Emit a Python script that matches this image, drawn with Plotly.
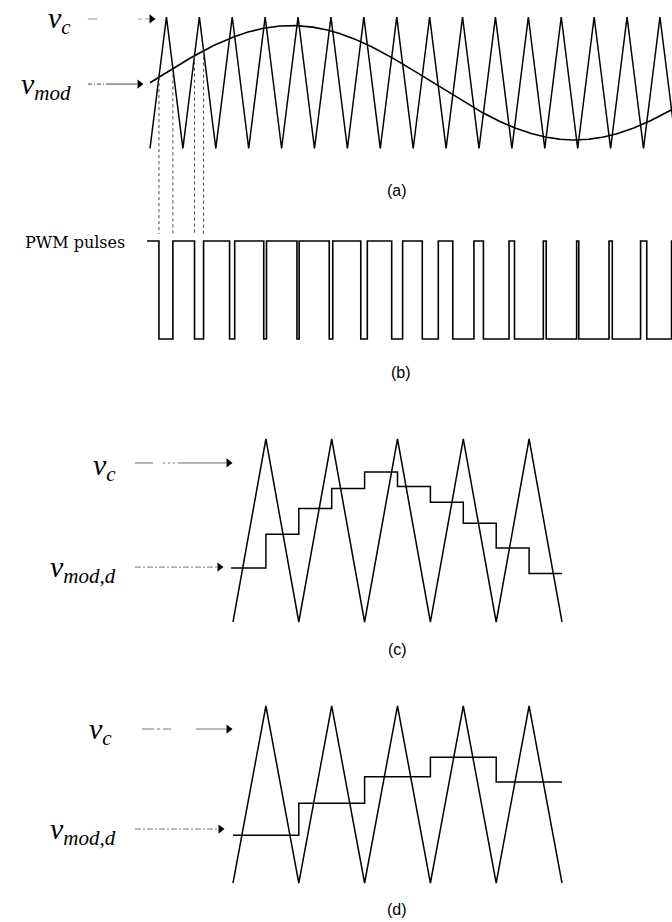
import numpy as np
import plotly.graph_objects as go

W, H = 672, 922

# ---------------- waveform parameters ----------------
CARRIER_PEAK = 1.0            # triangular carrier swings between -1 and +1
CARRIER_PERIODS_AB = 16       # carrier periods drawn in (a) and (b)
MOD_INDEX = 0.87              # peak of v_mod relative to the carrier peak
CARRIER_PER_MOD = 17.2        # carrier periods in one period of v_mod
PWM_START = -0.09             # PWM trace begins slightly before the carrier
PWM_LEVELS = (0, 1)           # low / high
N_MARKED_EDGES = 4            # first switching instants projected down to (b)

# (c) asymmetric regular sampling: v_mod,d updated every half carrier period
levels_c = [-0.41, -0.04, 0.24, 0.46, 0.64, 0.48, 0.31, 0.08, -0.19, -0.47]
# (d) symmetric regular sampling: v_mod,d updated once per carrier period
levels_d = [-0.46, -0.10, 0.20, 0.42, 0.14]
CARRIER_PERIODS_CD = 5

panel_labels = ["(a)", "(b)", "(c)", "(d)"]

PX_AB, PX_CD = 32.9, 65.8     # pixels per carrier period in the two layouts


# ---------------- helpers ----------------
def carrier(t):
    f = np.mod(t, 1.0)
    return np.where(f < 0.5, -1 + 4 * f, 3 - 4 * f) * CARRIER_PEAK


def v_mod(t):
    return MOD_INDEX * np.sin(2 * np.pi * np.asarray(t) / CARRIER_PER_MOD)


def triangle_vertices(n_periods):
    tv = np.arange(0, n_periods + 0.25, 0.5)
    vv = np.where(np.arange(len(tv)) % 2 == 0, -CARRIER_PEAK, CARRIER_PEAK)
    return tv, vv


def x_axis(px0, px_per_unit):
    return dict(domain=[0, 1], range=[-px0 / px_per_unit, (W - px0) / px_per_unit],
                visible=False, fixedrange=True)


def y_axis(px_hi, px_lo, v_hi, v_lo, top, bot, anchor):
    s = (v_hi - v_lo) / (px_lo - px_hi)
    f = lambda px: v_lo + (px_lo - px) * s
    return dict(domain=[1 - bot / H, 1 - top / H], range=[f(bot), f(top)],
                visible=False, fixedrange=True, anchor=anchor)


INK = dict(color="black", width=1.5)
A, B, C, D = ("x", "y"), ("x2", "y2"), ("x3", "y3"), ("x4", "y4")

fig = go.Figure()


def add(ax, **kw):
    fig.add_trace(go.Scatter(xaxis=ax[0], yaxis=ax[1], hoverinfo="skip", **kw))


# ---------------- (a) carrier and sinusoidal modulation ----------------
ta, va = triangle_vertices(CARRIER_PERIODS_AB)
add(A, x=ta, y=va, mode="lines", line=INK)
ts = np.linspace(0, CARRIER_PERIODS_AB, 1200)
add(A, x=ts, y=v_mod(ts), mode="lines", line=dict(color="black", width=1.6))

# ---------------- (b) PWM pulses: high while v_mod > v_c ----------------
tp = np.arange(0, CARRIER_PERIODS_AB, 1e-4)
on = v_mod(tp) > carrier(tp)
idx = np.nonzero(np.diff(on.astype(int)))[0] + 1
edges = tp[idx]
px_ = [PWM_START] + list(edges) + [CARRIER_PERIODS_AB]
py_ = [PWM_LEVELS[1]] + [PWM_LEVELS[int(on[i])] for i in idx] + [PWM_LEVELS[int(on[-1])]]
add(B, x=px_, y=py_, mode="lines", line=dict(color="black", width=1.6, shape="hv"))

# projection of the first crossings down to the pulse train
A_Y = y_axis(17, 148.5, 1, -1, 13, 234, "x")
ya_bottom = A_Y["range"][0]
dx, dy = [], []
for te in edges[:N_MARKED_EDGES]:
    dx += [te, te, None]
    dy += [float(v_mod(te)), ya_bottom, None]
add(A, x=dx, y=dy, mode="lines", line=dict(color="#444", width=1, dash="dot"))

# ---------------- (c) and (d) sampled modulation ----------------
for ax, levels, step in ((C, levels_c, 0.5), (D, levels_d, 1.0)):
    tv, vv = triangle_vertices(CARRIER_PERIODS_CD)
    add(ax, x=tv, y=vv, mode="lines", line=INK)
    xs = [step * k for k in range(len(levels))] + [CARRIER_PERIODS_CD]
    ys = list(levels) + [levels[-1]]
    if ax == C:
        xs[0] = -0.03
    add(ax, x=xs, y=ys, mode="lines", line=dict(color="black", width=1.5, shape="hv"))

# ---------------- pointer arrows (dashed shaft + triangular head) ----------------
arrows = [
    # axis, x-start, x-tip, level, colour, dash
    (A, -1.885, 0.152, 0.97, "#9a9a9a", "9px,41px,4px,3px,4px,60px"),
    (A, -1.885, -0.213, -0.02, "#444", "4px,2px,1px,2px,4px,2px,1px,2px,60px"),
    (C, -1.49, -0.015, 0.738, "#666", "18px,10px,2px,3px,2px,3px,2px,3px,60px"),
    (C, -1.49, -0.152, -0.40, "#777", "6px,2px,2px,2px"),
    (D, -1.383, -0.015, 0.74, "#777", "12px,3px,3px,3px,8px,25px,60px"),
    (D, -1.49, -0.137, -0.39, "#777", "6px,2px,2px,2px,6px,2px,2px,2px,6px,2px,2px,2px,6px,2px,2px,2px,6px,2px,2px,2px,6px,2px,2px,2px,6px,2px,2px,2px,6px,15px"),
]
for ax, x0, x1, lv, col, dash in arrows:
    pxu = PX_AB if ax in (A, B) else PX_CD
    add(ax, x=[x0, x1 - 6 / pxu], y=[lv, lv], mode="lines",
        line=dict(color=col, width=1, dash=dash))
    add(ax, x=[x1 - 3.5 / pxu], y=[lv], mode="markers", cliponaxis=False,
        marker=dict(symbol="triangle-right", size=8, color="black", line=dict(width=0)))

# ---------------- text ----------------
annotations = []
MATH = dict(family="Liberation Serif", size=30, color="black")


def label(text, right_px, mid_px, font, anchor="right"):
    annotations.append(dict(x=right_px / W, y=1 - mid_px / H, xref="paper", yref="paper",
                            text=text, showarrow=False, xanchor=anchor, yanchor="middle",
                            font=font))


vc = "<i>v</i><sub><i>c</i></sub>"
vmod = "<i>v</i><sub><i>mod</i></sub>"
vmodd = "<i>v</i><sub><i>mod,d</i></sub>"
label(vc, 73, 20, MATH)
label(vmod, 73, 86, MATH)
label(vc, 118, 467, MATH)
label(vmodd, 118, 569, MATH)
label(vc, 114, 731, MATH)
label(vmodd, 118, 831, MATH)
label("PWM pulses", 127, 242, dict(family="DejaVu Serif", size=16, color="black"))

SANS = dict(family="Liberation Sans", size=16, color="black")
for txt, cx, cy in zip(panel_labels, [397, 401, 397, 397], [190, 373, 649, 909]):
    label(txt, cx, cy, SANS, anchor="center")

fig.update_layout(
    width=W, height=H, margin=dict(l=0, r=0, t=0, b=0),
    paper_bgcolor="white", plot_bgcolor="rgba(0,0,0,0)", showlegend=False,
    xaxis=x_axis(150, PX_AB),
    yaxis=A_Y,
    xaxis2=dict(x_axis(150, PX_AB), anchor="y2"),
    yaxis2=y_axis(241, 339, 1, 0, 237, 343, "x2"),
    xaxis3=dict(x_axis(233, PX_CD), anchor="y3"),
    yaxis3=y_axis(439, 622, 1, -1, 435, 626, "x3"),
    xaxis4=dict(x_axis(233, PX_CD), anchor="y4"),
    yaxis4=y_axis(706, 883, 1, -1, 702, 887, "x4"),
    annotations=annotations,
)

fig.write_html("out.html", config={"displayModeBar": False})
